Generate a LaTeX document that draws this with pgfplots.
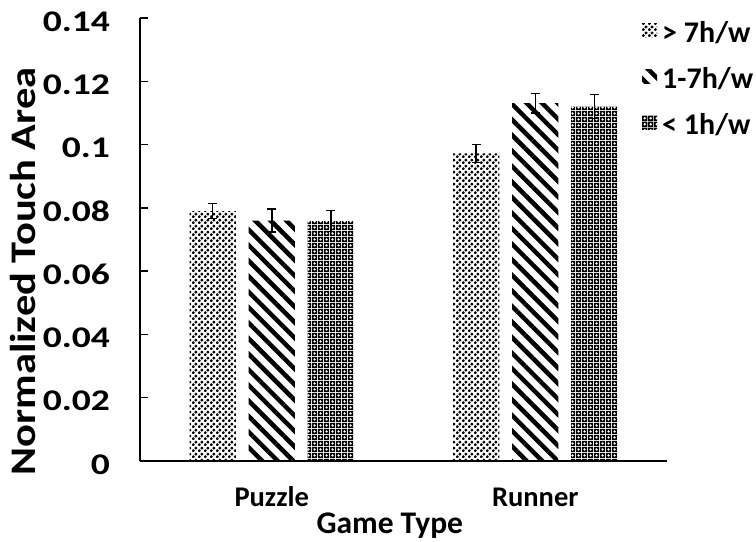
\documentclass[border=0pt]{standalone}
\usepackage{fontspec}
\setmainfont{Carlito}
\usepackage{graphicx}
\usepackage{pgfplots}
\pgfplotsset{compat=1.18}
\usetikzlibrary{patterns,patterns.meta}

\newcommand{\sx}[2]{\scalebox{#1}[1]{#2}}
\newcommand{\yl}[1]{\sx{1.25}{#1}}

\pgfdeclarepattern{
  name=lightdots, type=uncolored,
  bottom left={\pgfpoint{0pt}{0pt}}, top right={\pgfpoint{6pt}{6pt}},
  tile size={\pgfpoint{6pt}{6pt}},
  code={
    \pgfpathcircle{\pgfpoint{1.5pt}{1.5pt}}{1.85pt}
    \pgfpathcircle{\pgfpoint{4.5pt}{4.5pt}}{1.85pt}
    \pgfusepath{fill}
  }}
\pgfdeclarepattern{
  name=darkdots, type=uncolored,
  bottom left={\pgfpoint{0pt}{0pt}}, top right={\pgfpoint{6pt}{6pt}},
  tile size={\pgfpoint{6pt}{6pt}},
  code={
    \pgfseteorule
    \pgfpathrectangle{\pgfpoint{0pt}{0pt}}{\pgfpoint{6pt}{6pt}}
    \pgfpathcircle{\pgfpoint{3pt}{3pt}}{1.75pt}
    \pgfusepath{fill}
  }}

\begin{document}
\begin{tikzpicture}
\begin{axis}[
  name=ax,
  scale only axis,
  width=527pt, height=443pt,
  font=\bfseries,
  xmin=-0.5, xmax=1.5,
  ymin=0, ymax=0.14,
  ytick={0,0.02,...,0.14},
  yticklabels={\yl{0},\yl{0.02},\yl{0.04},\yl{0.06},\yl{0.08},\yl{0.1},\yl{0.12},\yl{0.14}},
  yticklabel style={font=\fontsize{30}{30}\selectfont\bfseries, anchor=east, inner xsep=0pt, xshift=-30pt, yshift=-3.5pt},
  xtick={0,1},
  xticklabels={Puzzle,Runner},
  xticklabel style={font=\fontsize{28.5}{28.5}\selectfont\bfseries, anchor=base, yshift=-37pt},
  major x tick style={draw=none},
  extra x ticks={0.5,1.5},
  extra x tick labels={},
  extra x tick style={major tick style={draw=black, line width=1.3pt}},
  tick align=inside,
  major tick length=8pt,
  axis x line*=bottom,
  axis y line*=left,
  axis line style={line width=1.3pt, -},
  ytick style={line width=1.3pt, black},
  xlabel={Game Type},
  ylabel={\sx{1.18}{Normalized Touch Area}},
  xlabel style={font=\fontsize{31.5}{31.5}\selectfont\bfseries, at={(axis description cs:0.474,0)}, anchor=base, yshift=-72pt},
  ylabel style={font=\fontsize{36}{36}\selectfont\bfseries, at={(axis description cs:-0.222,0.428)}, anchor=center},
  ybar, bar width=0.175,
  error bars/y dir=both, error bars/y explicit,
  error bars/error bar style={line width=1.5pt, black},
  error bars/error mark options={rotate=90, mark size=4.6pt, line width=1.5pt, black},
  legend image code/.code={\path[#1, draw=none] (0pt,-3pt) rectangle (15pt,11pt);},
  legend style={draw=none, fill=none, at={(rel axis cs:0.9526,0.993)}, anchor=north west,
    font=\fontsize{30}{30}\selectfont\bfseries, row sep=19pt, column sep=0pt,
    inner sep=0pt, nodes={inner sep=0pt, text height=21pt, text depth=6pt},
    cells={anchor=west},
    /tikz/every odd column/.append style={column sep=5pt}},
]
\addplot[draw=none, pattern=lightdots, pattern color=black, bar shift=-0.224]
  coordinates {(0,0.0790) +- (0,0.0024) (1,0.0972) +- (0,0.0028)};
\addplot[draw=none, pattern={Lines[angle=-45,distance=11pt,line width=4.5pt]}, pattern color=black, bar shift=0]
  coordinates {(0,0.0760) +- (0,0.0036) (1,0.1131) +- (0,0.0031)};
\addplot[draw=none, pattern=darkdots, pattern color=black, bar shift=0.224]
  coordinates {(0,0.0758) +- (0,0.0033) (1,0.1120) +- (0,0.0038)};
\legend{> 7h/w, 1-7h/w, < 1h/w}
\end{axis}
\pgfresetboundingbox
\path (ax.south west) ++(-140pt,-80pt) coordinate (bl);
\path (ax.north east) ++(89pt,18pt) coordinate (tr);
\useasboundingbox (bl) rectangle (tr);
\end{tikzpicture}
\end{document}
